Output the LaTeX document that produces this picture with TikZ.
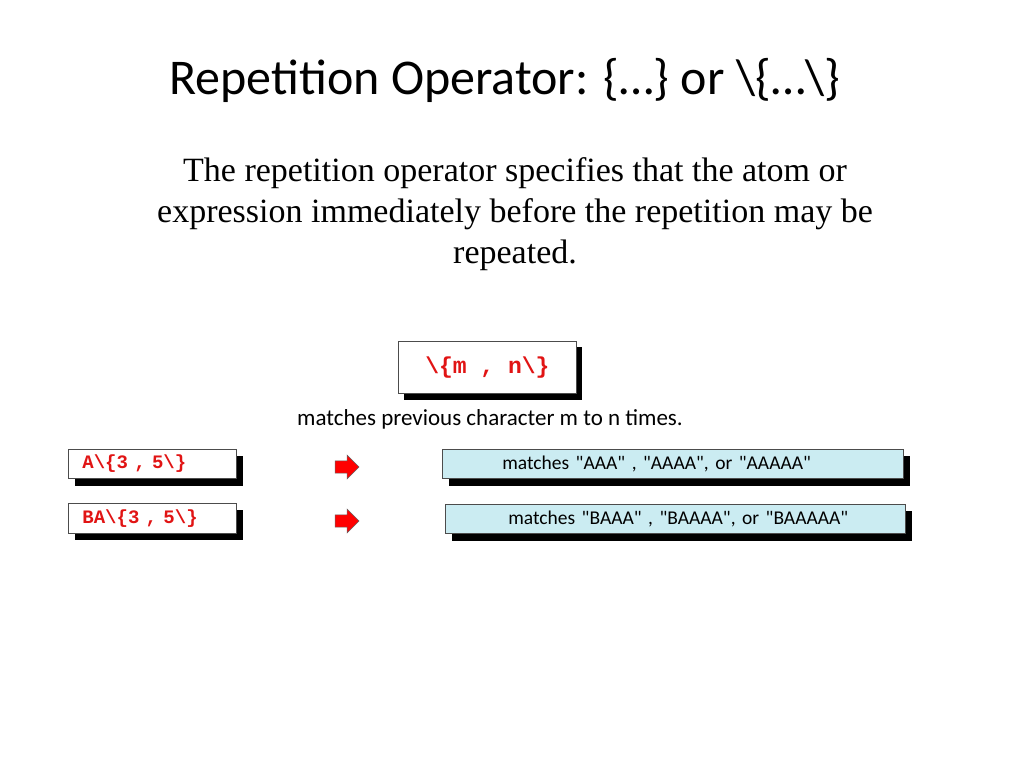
\documentclass[tikz,border=0pt]{standalone}
\usepackage{fontspec}
\setmainfont{Liberation Serif}
\newfontfamily\slidefont{Carlito}
\setmonofont{Liberation Mono}
\usetikzlibrary{shapes.arrows}
\definecolor{boxblue}{RGB}{203,236,242}
\definecolor{codered}{RGB}{225,20,20}

\tikzset{
	codebox/.style = {draw=black!70, fill=white, line width=0.8pt, anchor=north west,
		inner sep=0pt, font=\fontsize{19}{21}\selectfont\ttfamily\bfseries, text=codered},
	resultbox/.style = {draw=black!70, fill=boxblue, line width=0.8pt, anchor=north west,
		inner sep=0pt, font=\slidefont\fontsize{19.5}{22}\selectfont, align=left},
	shade_box/.style = {fill=black},
	redarrow/.style = {single arrow, draw=black!60, fill=red, minimum height=24pt,
		minimum width=24pt, inner xsep=0pt, inner ysep=5pt, single arrow head extend=5pt, line width=0.5pt}
}

\begin{document}
\begin{tikzpicture}[x=1pt, y=-1pt]
\useasboundingbox (0,0) rectangle (1024,768);

\node (title) at (505,80) {\slidefont\fontsize{50}{60}\selectfont Repetition Operator: \{\ldots\} or \textbackslash\{\ldots\textbackslash\}};
\node[align=center, font=\fontsize{34}{41}\selectfont] (intro) at (515,214)
	{The repetition operator specifies that the atom or\\
	 expression immediately before the repetition may be\\
	 repeated.};

% general form
\fill[shade_box] (404,347) rectangle (582,400);
\node[codebox, minimum width=178pt, minimum height=52pt, font=\fontsize{23}{25}\selectfont\ttfamily\bfseries] (general) at (398,341) {\textbackslash\{m , n\textbackslash\}};
\node[font=\slidefont\fontsize{23}{26}\selectfont] (caption) at (490,419) {matches previous character m to n times.};

% examples
\fill[shade_box] (75,456) rectangle (243,486);
\node[codebox, minimum width=168pt, minimum height=29pt, text width=160pt, align=left] (exa) at (68,449)
	{\hspace*{10pt}A\textbackslash\{3 , 5\textbackslash\}};
\fill[shade_box] (75,510) rectangle (243,540);
\node[codebox, minimum width=168pt, minimum height=30pt, text width=160pt, align=left] (exb) at (68,503)
	{\hspace*{10pt}BA\textbackslash\{3 , 5\textbackslash\}};

\node[redarrow] (arra) at (344,467) {};
\node[redarrow] (arrb) at (344,521) {};

\fill[shade_box] (449,456) rectangle (910,486);
\node[resultbox, minimum width=461pt, minimum height=29pt, text width=461pt] (resa) at (442,449)
	{\hspace*{60pt}matches "AAA" , "AAAA", or "AAAAA"};
\fill[shade_box] (452,511) rectangle (912,541);
\node[resultbox, minimum width=460pt, minimum height=29pt, text width=460pt] (resb) at (445,504)
	{\hspace*{63pt}matches "BAAA" , "BAAAA", or "BAAAAA"};
\end{tikzpicture}
\end{document}
